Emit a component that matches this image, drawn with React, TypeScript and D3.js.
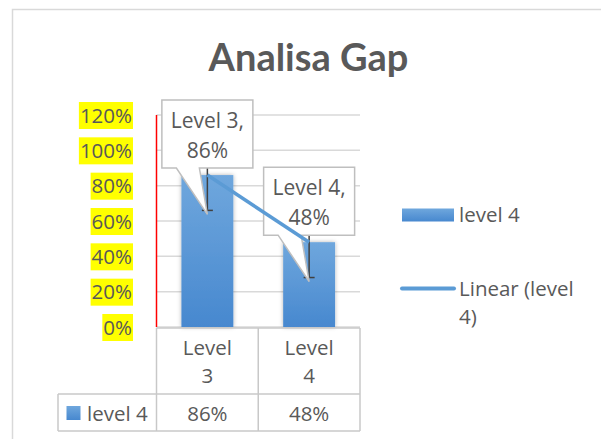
import * as d3 from "d3";

const categories = ["Level 3", "Level 4"];
const catLines = [["Level", "3"], ["Level", "4"]];
const values = [0.86, 0.48];
const errors = [0.2, 0.2];
const yTicks = [0, 0.2, 0.4, 0.6, 0.8, 1.0, 1.2];
const seriesName = "level 4";
const trendName = ["Linear (level", "4)"];
const title = "Analisa Gap";

const W = 601;
const H = 439;
const FONT = "'Open Sans', sans-serif";
const TXT = "#595959";
const FS = 20.5;

function textWidth(s: string, size: number, weight = "normal") {
	const c = document.createElement("canvas").getContext("2d");
	if (!c) return s.length * size * 0.55;
	c.font = `${weight} ${size}px 'Open Sans'`;
	return c.measureText(s).width;
}

export default function App() {
	const plotLeft = 156.5;
	const plotRight = 360;
	const y = d3.scaleLinear().domain([0, 1.2]).range([327, 115]);
	const x = d3
		.scaleBand<string>()
		.domain(categories)
		.range([plotLeft, plotRight])
		.paddingInner(0.49)
		.paddingOuter(0.245);
	const col = d3.scaleBand<string>().domain(categories).range([plotLeft, plotRight]);
	const cx = (c: string) => (x(c) ?? 0) + x.bandwidth() / 2;
	const pct = d3.format(".0%");

	// least squares trend over category index
	const idx = values.map((_, i) => i + 1);
	const mx = d3.mean(idx) ?? 0;
	const my = d3.mean(values) ?? 0;
	const slope =
		d3.sum(idx.map((v, i) => (v - mx) * (values[i] - my))) /
		d3.sum(idx.map((v) => (v - mx) ** 2));
	const icept = my - slope * mx;
	const trendPts: [number, number][] = idx.map((v, i) => [cx(categories[i]), y(icept + slope * v)]);
	const line = d3.line();

	const tableTop = 328;
	const rowSep = 394;
	const tableBottom = 431;

	return (
		<svg width={W} height={H} style={{ position: "absolute", left: 0, top: 0, background: "#fff" }} fontFamily={FONT}>
			<defs>
				<linearGradient id="barG" x1="0" y1="0" x2="0" y2="1">
					<stop offset="0" stopColor="#6fa7dd" />
					<stop offset="1" stopColor="#4788cf" />
				</linearGradient>
				<filter id="sh" x="-30%" y="-10%" width="160%" height="120%">
					<feDropShadow dx="0" dy="0" stdDeviation="2" floodColor="#000" floodOpacity="0.3" />
				</filter>
			</defs>
			<rect x={12.5} y={9.5} width={700} height={500} fill="#fff" stroke="#d9d9d9" strokeWidth={1.5} />
			<text x={308.5} y={70.5} textAnchor="middle" fontSize={38} fontWeight="bold" fill={TXT} fontFamily="Lato, sans-serif">
				{title}
			</text>

			{/* gridlines */}
			{yTicks.map((t) => (
				<line key={t} x1={plotLeft} x2={plotRight} y1={y(t)} y2={y(t)} stroke="#d9d9d9" strokeWidth={1.5} />
			))}
			{/* tick labels with yellow highlight */}
			{yTicks.map((t) => {
				const s = pct(t);
				const w = textWidth(s, FS) + 2;
				return (
					<g key={"l" + t}>
						<rect x={133 - w} y={y(t) - 13} width={w} height={27} fill="#ffff00" />
						<text x={132} y={y(t) + 7.5} textAnchor="end" fontSize={FS} fill={TXT}>
							{s}
						</text>
					</g>
				);
			})}
			<line x1={plotLeft} x2={plotLeft} y1={y(1.2)} y2={y(0)} stroke="#ff0000" strokeWidth={1.5} />

			{/* bars */}
			{categories.map((c, i) => (
				<rect
					key={c}
					x={x(c)}
					y={y(values[i])}
					width={x.bandwidth()}
					height={y(0) - y(values[i])}
					fill="url(#barG)"
					filter="url(#sh)"
				/>
			))}
			{/* error bars */}
			{categories.map((c, i) => (
				<g key={"e" + c} stroke="#404040" strokeWidth={1.5}>
					<line x1={cx(c)} x2={cx(c)} y1={y(values[i] + errors[i])} y2={y(values[i] - errors[i])} />
					<line x1={cx(c) - 5.5} x2={cx(c) + 5.5} y1={y(values[i] - errors[i])} y2={y(values[i] - errors[i])} />
					<line x1={cx(c) - 5.5} x2={cx(c) + 5.5} y1={y(values[i] + errors[i])} y2={y(values[i] + errors[i])} />
				</g>
			))}

			{/* callouts */}
			{categories.map((c, i) => {
				const mxc = cx(c);
				const bottom = y(values[i]) - 7;
				const top = bottom - 68;
				const l = mxc - 45.5;
				const r = mxc + 45.5;
				const tipY = y(values[i] - errors[i]) + 4;
				const d = `M${l},${top}H${r}V${bottom}H${mxc - 8}L${mxc},${tipY}L${mxc - 31},${bottom}H${l}Z`;
				return (
					<g key={"c" + c}>
						<path d={d} fill="#fff" stroke="#bfbfbf" strokeWidth={1.5} strokeLinejoin="miter" />
						<text x={mxc} y={top + 28} textAnchor="middle" fontSize={21} fill={TXT}>
							{c + ","}
						</text>
						<text x={mxc} y={top + 58} textAnchor="middle" fontSize={21} fill={TXT}>
							{pct(values[i])}
						</text>
					</g>
				);
			})}
			{/* trendline */}
			<path d={line(trendPts) ?? ""} fill="none" stroke="#5b9bd5" strokeWidth={3.5} />

			{/* data table */}
			<g stroke="#c8c8c8" strokeWidth={1.5} fill="none">
				<line x1={plotLeft} x2={plotRight} y1={tableTop} y2={tableTop} />
				<line x1={58} x2={plotRight} y1={rowSep} y2={rowSep} />
				<line x1={58} x2={plotRight} y1={tableBottom} y2={tableBottom} />
				<line x1={58} x2={58} y1={rowSep} y2={tableBottom} />
				{categories.map((c) => (
					<line key={"v" + c} x1={col(c)} x2={col(c)} y1={tableTop} y2={tableBottom} />
				))}
				<line x1={plotRight} x2={plotRight} y1={tableTop} y2={tableBottom} />
			</g>
			{categories.map((c, i) => {
				const mc = (col(c) ?? 0) + col.bandwidth() / 2;
				return (
					<g key={"t" + c} fontSize={FS} fill={TXT} textAnchor="middle">
						<text x={mc} y={354.5}>{catLines[i][0]}</text>
						<text x={mc} y={383}>{catLines[i][1]}</text>
						<text x={mc} y={421}>{pct(values[i])}</text>
					</g>
				);
			})}
			<rect x={66.5} y={406} width={14} height={14} fill="url(#barG)" />
			<text x={87} y={421} fontSize={FS} fill={TXT}>
				{seriesName}
			</text>

			{/* legend */}
			<rect x={402} y={208.5} width={52} height={13} fill="url(#barG)" />
			<text x={459} y={221.5} fontSize={FS} fill={TXT}>
				{seriesName}
			</text>
			<line x1={402} x2={454} y1={288.5} y2={288.5} stroke="#5b9bd5" strokeWidth={4} strokeLinecap="round" />
			<text x={459} y={296} fontSize={FS} fill={TXT}>
				{trendName[0]}
			</text>
			<text x={459} y={324} fontSize={FS} fill={TXT}>
				{trendName[1]}
			</text>
		</svg>
	);
}
